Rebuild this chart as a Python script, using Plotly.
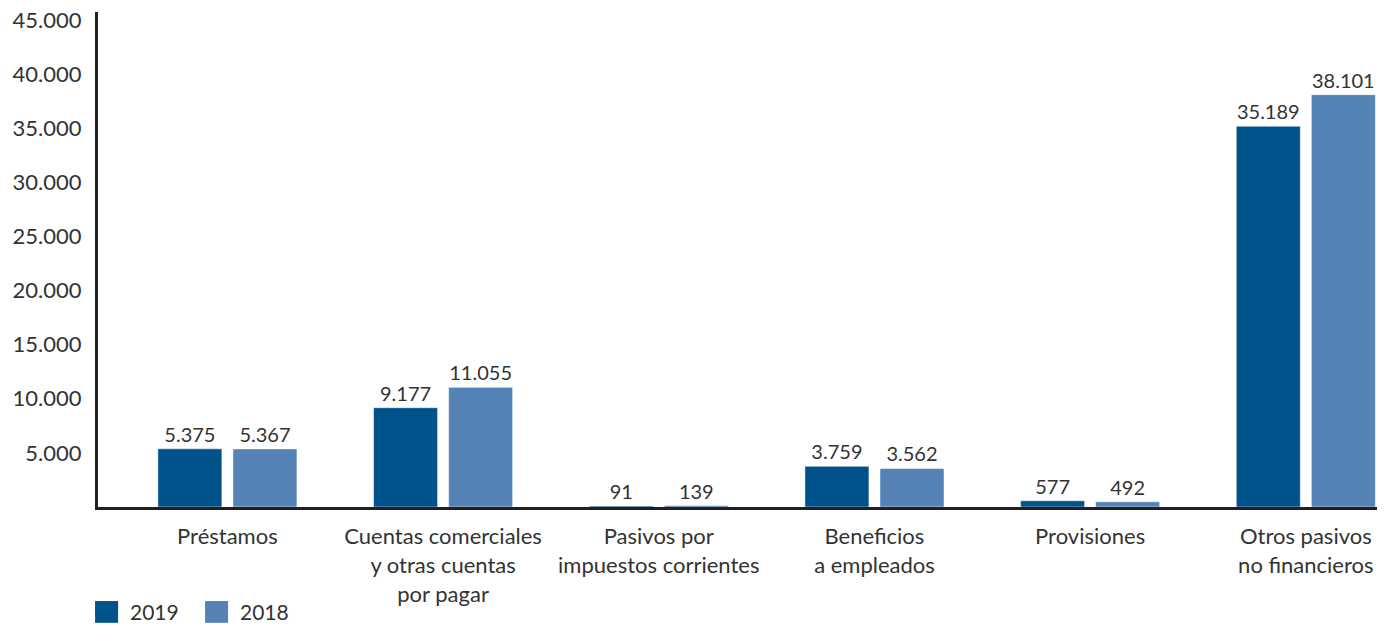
import plotly.graph_objects as go

categories = [
    "Préstamos",
    "Cuentas comerciales<br>y otras cuentas<br>por pagar",
    "Pasivos por<br>impuestos corrientes",
    "Beneficios<br>a empleados",
    "Provisiones",
    "Otros pasivos<br>no financieros",
]
series_names = ["2019", "2018"]
values_2019 = [5375, 9177, 91, 3759, 577, 35189]
values_2018 = [5367, 11055, 139, 3562, 492, 38101]
y_ticks = [5000, 10000, 15000, 20000, 25000, 30000, 35000, 40000, 45000]

DARK = "#00538A"
LIGHT = "#5583B5"
TEXT = "#333333"
FONT = "Lato"

fig = go.Figure()
for name, vals, col in zip(series_names, [values_2019, values_2018], [DARK, LIGHT]):
    fig.add_trace(go.Bar(x=categories, y=vals, name=name, marker_color=col,
                         texttemplate="%{y:,d}", textposition="outside", cliponaxis=False,
                         textfont=dict(family=FONT, size=20, color=TEXT), showlegend=False))

# legend drawn by hand so the swatches can be as large as in the original
legend_x = [-0.0023, 0.0837]
for name, col, lx in zip(series_names, [DARK, LIGHT], legend_x):
    fig.add_shape(type="rect", xref="paper", yref="paper", x0=lx, x1=lx + 0.018,
                  y0=-0.234, y1=-0.19, fillcolor=col, line_width=0)
    fig.add_annotation(xref="paper", yref="paper", x=lx + 0.026, y=-0.212, text=name,
                       showarrow=False, xanchor="left", yanchor="middle",
                       font=dict(family=FONT, size=21, color=TEXT))

# page body has an 8px margin, so the figure is sized and padded for that offset
fig.update_layout(
    template="plotly_white",
    width=1377,
    height=619,
    barmode="group",
    bargap=0.304,
    bargroupgap=0.147,
    separators=",.",
    font=dict(family=FONT, size=21, color=TEXT),
    margin=dict(l=90, r=8, t=4, b=120, autoexpand=False),
    plot_bgcolor="white",
    paper_bgcolor="white",
    showlegend=False,
)
fig.update_xaxes(range=[-0.6, 5.33], showline=True, linecolor="#231F20", linewidth=3,
                 showgrid=False, ticks="", ticklabelstandoff=8, tickangle=0,
                 tickfont=dict(size=22), automargin=False)
fig.update_yaxes(range=[0, 45740], showline=True, linecolor="#231F20", linewidth=3,
                 showgrid=False, zeroline=False, ticks="", tickvals=y_ticks, tickformat=",d",
                 tickfont=dict(size=22), ticklabelstandoff=9, ticklabeloverflow="allow",
                 automargin=False)

fig.write_html("out.html")
